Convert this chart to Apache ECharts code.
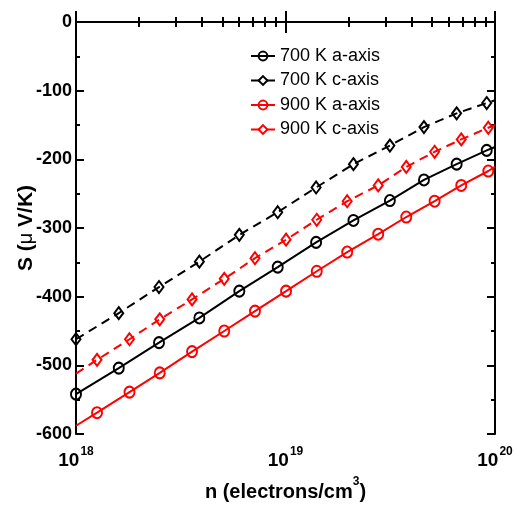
<!DOCTYPE html>
<html>
<head>
<meta charset="utf-8">
<script src="https://cdn.jsdelivr.net/npm/echarts@6/dist/echarts.min.js"></script>
<style>
html,body{margin:0;padding:0;background:#fff;}
#c{width:514px;height:505px;}
</style>
</head>
<body>
<div id="c"></div>
<script>
// ---- data ----
const seriesNames = ['700 K a-axis', '700 K c-axis', '900 K a-axis', '900 K c-axis'];
// carrier concentration (electrons/cm^3) at the 700 K markers
const n700 = [1.0e18, 1.6e18, 2.49e18, 3.88e18, 6.02e18, 9.18e18, 1.40e19, 2.11e19, 3.15e19, 4.58e19, 6.56e19, 9.13e19];
const s700a = [-542, -504, -467, -431, -392, -357, -321, -289, -260, -230, -207, -187];
const s700c = [-462, -424, -386, -349, -310, -277, -241, -207, -180, -153, -133, -118];
// carrier concentration at the 900 K markers
const n900 = [1.26e18, 1.80e18, 2.51e18, 3.58e18, 5.10e18, 7.15e18, 1.006e19, 1.41e19, 1.97e19, 2.77e19, 3.77e19, 5.15e19, 6.90e19, 9.29e19];
const s900a = [-569, -539, -511, -480, -450, -421, -392, -363, -335, -309, -284, -261, -238, -217];
const s900c = [-492, -462, -433, -404, -374, -344, -317, -288, -261, -238, -211, -189, -171, -154];
// line ends (no markers) at the axis limits
const nEdges = [1e18, 1e20];
const s700aEdge = [null, -182];
const s700cEdge = [null, -114];
const s900aEdge = [-588, -211];
const s900cEdge = [-512, -150];
// axes
const xExponents = [18, 19, 20];
const xMinor = [2,3,4,5,6,7,8,9,20,30,40,50,60,70,80,90].map(m => m * 1e18);
const yTicks = [-600, -500, -400, -300, -200, -100, 0];

function buildData(ns, ss, edge) {
  const d = [];
  if (edge[0] !== null) d.push({ value: [nEdges[0], edge[0]], symbol: 'none' });
  ns.forEach((n, i) => d.push([n, ss[i]]));
  if (edge[1] !== null) d.push({ value: [nEdges[1], edge[1]], symbol: 'none' });
  return d;
}

const FONT = '"Liberation Sans", Arial, sans-serif';

function mkSeries(name, color, symbol, size, dashed, data) {
  return {
    name: name,
    type: 'line',
    data: data,
    color: color,
    symbol: symbol,
    symbolSize: size,
    showAllSymbol: true,
    lineStyle: { color: color, width: 2, type: dashed ? [9, 6] : 'solid' },
    itemStyle: { color: 'rgba(255,255,255,0)', borderColor: color, borderWidth: 2 },
    emphasis: { disabled: true },
    animation: false,
    z: 3
  };
}

const logAxisBase = {
  type: 'log', logBase: 10, min: 1e18, max: 1e20,
  splitLine: { show: false },
  axisLine: { show: true, lineStyle: { color: '#000', width: 2 } }
};

const option = {
  backgroundColor: '#fff',
  animation: false,
  grid: { left: 76, right: 19, top: 22, bottom: 71, containLabel: false, outerBoundsMode: 'none' },
  legend: {
    orient: 'vertical',
    left: 245,
    top: 41,
    itemWidth: 24,
    itemHeight: 11,
    itemGap: 4.5,
    data: seriesNames,
    textStyle: { fontFamily: FONT, fontSize: 18, color: '#000', lineHeight: 20, padding: [0, 0, 0, 0] }
  },
  xAxis: [
    Object.assign({}, logAxisBase, {
      position: 'bottom',
      axisTick: { show: true, inside: true, length: 11, lineStyle: { width: 2, color: '#000' } },
      axisLabel: {
        show: true, margin: 12, showMinLabel: true, showMaxLabel: true,
        formatter: v => {
          const e = Math.round(Math.log10(v));
          return xExponents.indexOf(e) >= 0 ? '{a|10}{b|' + e + '}' : '';
        },
        rich: {
          a: { fontFamily: FONT, fontWeight: 'bold', fontSize: 19, color: '#000', lineHeight: 24, verticalAlign: 'bottom' },
          b: { fontFamily: FONT, fontWeight: 'bold', fontSize: 12, color: '#000', lineHeight: 24, verticalAlign: 'top', padding: [0, 0, 8, 1] }
        }
      },
      name: '{a|n (electrons/cm}{b|3}{a|)}',
      nameLocation: 'middle',
      nameGap: 42,
      nameMoveOverlap: false,
      nameTextStyle: {
        rich: {
          a: { fontFamily: FONT, fontWeight: 'bold', fontSize: 20, color: '#000', lineHeight: 26, verticalAlign: 'bottom' },
          b: { fontFamily: FONT, fontWeight: 'bold', fontSize: 12, color: '#000', lineHeight: 26, verticalAlign: 'top', padding: [0, 0, 10, 0] }
        }
      }
    }),
    Object.assign({}, logAxisBase, {
      position: 'bottom', gridIndex: 0,
      axisLine: { show: false },
      axisTick: { show: true, inside: true, length: 5, customValues: xMinor, lineStyle: { width: 2, color: '#000' } },
      axisLabel: { show: false }
    }),
    Object.assign({}, logAxisBase, {
      position: 'top',
      axisTick: { show: true, inside: true, length: 11, lineStyle: { width: 2, color: '#000' } },
      axisLabel: { show: false }
    }),
    Object.assign({}, logAxisBase, {
      position: 'top',
      axisLine: { show: false },
      axisTick: { show: true, inside: true, length: 5, customValues: xMinor, lineStyle: { width: 2, color: '#000' } },
      axisLabel: { show: false }
    })
  ],
  yAxis: [
    {
      type: 'value', min: yTicks[0], max: yTicks[yTicks.length - 1], interval: 100,
      position: 'left',
      splitLine: { show: false },
      axisLine: { show: true, lineStyle: { color: '#000', width: 2 } },
      axisTick: { show: true, inside: true, length: 8, lineStyle: { width: 2, color: '#000' } },
      minorTick: { show: true, splitNumber: 2, length: 4, lineStyle: { width: 2, color: '#000' } },
      axisLabel: { margin: 4, fontFamily: FONT, fontWeight: 'bold', fontSize: 18, color: '#000' },
      name: '{a|S (}{m|μ}{a| V/K)}',
      nameLocation: 'middle',
      nameGap: 39,
      nameMoveOverlap: false,
      nameTextStyle: {
        rich: {
          a: { fontFamily: FONT, fontWeight: 'bold', fontSize: 21, color: '#000' },
          m: { fontFamily: FONT, fontWeight: 'normal', fontSize: 20, color: '#000' }
        }
      }
    },
    {
      type: 'value', min: yTicks[0], max: yTicks[yTicks.length - 1], interval: 100,
      position: 'right',
      splitLine: { show: false },
      axisLine: { show: true, lineStyle: { color: '#000', width: 2 } },
      axisTick: { show: true, inside: true, length: 8, lineStyle: { width: 2, color: '#000' } },
      minorTick: { show: true, splitNumber: 2, length: 4, lineStyle: { width: 2, color: '#000' } },
      axisLabel: { show: false }
    }
  ],
  series: [
    mkSeries(seriesNames[0], '#000', 'circle', [10, 11], false, buildData(n700, s700a, s700aEdge)),
    mkSeries(seriesNames[1], '#000', 'diamond', [9, 12], true, buildData(n700, s700c, s700cEdge)),
    mkSeries(seriesNames[2], '#ff0000', 'circle', [10, 11], false, buildData(n900, s900a, s900aEdge)),
    mkSeries(seriesNames[3], '#ff0000', 'diamond', [9, 12], true, buildData(n900, s900c, s900cEdge))
  ]
};

const chart = echarts.init(document.getElementById('c'), null, { renderer: 'canvas' });
chart.setOption(option);
</script>
</body>
</html>
